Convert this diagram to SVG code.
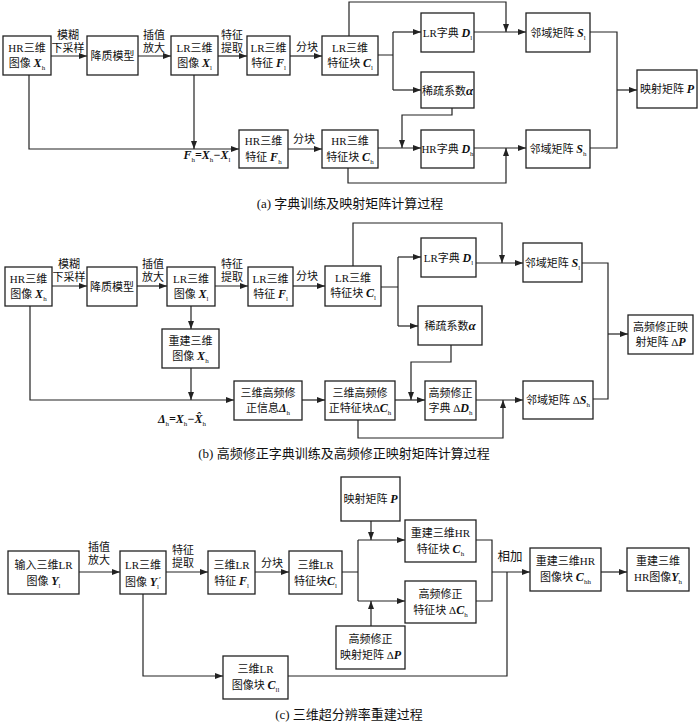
<svg xmlns="http://www.w3.org/2000/svg" width="700" height="722" viewBox="0 0 700 722">
<defs>
<style>
.b{fill:#fff;stroke:#222;stroke-width:1.3}
.l{fill:none;stroke:#222;stroke-width:1.2}
.a{marker-end:url(#ah)}
text{font-family:"Liberation Serif","Noto Sans CJK SC",serif;font-size:11px;fill:#111;text-anchor:middle}
.v{font-weight:bold;font-style:italic;font-size:12px}
.s{font-size:7px;font-weight:normal;font-style:normal}
.g{font-size:13px;font-weight:bold;font-style:italic}
.cap{font-size:13px}
</style>
<marker id="ah" viewBox="0 0 8 6" refX="8" refY="3" markerWidth="8" markerHeight="6" markerUnits="userSpaceOnUse" orient="auto"><path d="M0,0 L8,3 L0,6 z" fill="#222"/></marker>
</defs>
<rect width="700" height="722" fill="#fff"/>

<!-- ===== (a) ===== -->
<g id="connectors-a">
<path class="l a" d="M51,56 H87"/>
<path class="l a" d="M138,56 H171"/>
<path class="l a" d="M218,56 H247"/>
<path class="l a" d="M290,56 H322"/>
<path class="l a" d="M349,36 V2 H506 V32"/>
<path class="l a" d="M474,32 H526"/>
<path class="l" d="M378,55 H393 M393,32 V90"/>
<path class="l a" d="M393,32 H421"/>
<path class="l a" d="M393,90 H421"/>
<path class="l a" d="M452,108 V115 H402 V148"/>
<path class="l a" d="M378,148 H421"/>
<path class="l a" d="M474,148 H526"/>
<path class="l a" d="M348,168 V183 H506 V148"/>
<path class="l" d="M590,32 H617 V148 H590"/>
<path class="l a" d="M617,90 H637"/>
<path class="l a" d="M29,75 V149 H239"/>
<path class="l a" d="M194,75 V149"/>
<path class="l a" d="M288,149 H322"/>
<text x="68" y="39">模糊</text><text x="68" y="52">下采样</text>
<text x="154" y="39">插值</text><text x="154" y="52">放大</text>
<text x="232" y="39">特征</text><text x="232" y="52">提取</text>
<text x="307" y="51">分块</text>
<text x="304" y="143">分块</text>
<text x="207" y="159"><tspan class="v">F</tspan><tspan class="s" dy="3">h</tspan><tspan class="v" dy="-3">=X</tspan><tspan class="s" dy="3">h</tspan><tspan class="v" dy="-3">−X</tspan><tspan class="s" dy="3">l</tspan></text>
</g>
<g id="a_xh"><rect class="b" x="3" y="36" width="48" height="39"/><text x="27" y="52">HR三维</text><text x="27" y="67">图像 <tspan class="v">X</tspan><tspan class="s" dy="3">h</tspan></text></g>
<g id="a_deg"><rect class="b" x="87" y="36" width="51" height="39"/><text x="112.5" y="60">降质模型</text></g>
<g id="a_xl"><rect class="b" x="171" y="36" width="47" height="39"/><text x="194.5" y="52">LR三维</text><text x="194.5" y="67">图像 <tspan class="v">X</tspan><tspan class="s" dy="3">l</tspan></text></g>
<g id="a_fl"><rect class="b" x="247" y="36" width="43" height="39"/><text x="268.5" y="52">LR三维</text><text x="268.5" y="67">特征 <tspan class="v">F</tspan><tspan class="s" dy="3">l</tspan></text></g>
<g id="a_cl"><rect class="b" x="322" y="36" width="56" height="39"/><text x="350" y="52">LR三维</text><text x="350" y="67">特征块 <tspan class="v">C</tspan><tspan class="s" dy="3">l</tspan></text></g>
<g id="a_dl"><rect class="b" x="421" y="13" width="53" height="39"/><text x="447.5" y="37">LR字典 <tspan class="v">D</tspan><tspan class="s" dy="3">l</tspan></text></g>
<g id="a_sl"><rect class="b" x="526" y="13" width="64" height="39"/><text x="558" y="37">邻域矩阵 <tspan class="v">S</tspan><tspan class="s" dy="3">l</tspan></text></g>
<g id="a_alpha"><rect class="b" x="421" y="72" width="53" height="36"/><text x="447.5" y="95">稀疏系数<tspan class="g">α</tspan></text></g>
<g id="a_dh"><rect class="b" x="421" y="130" width="53" height="38"/><text x="447.5" y="153">HR字典 <tspan class="v">D</tspan><tspan class="s" dy="3">h</tspan></text></g>
<g id="a_sh"><rect class="b" x="526" y="130" width="64" height="38"/><text x="558" y="153">邻域矩阵 <tspan class="v">S</tspan><tspan class="s" dy="3">h</tspan></text></g>
<g id="a_p"><rect class="b" x="637" y="70" width="60" height="38"/><text x="667" y="93">映射矩阵 <tspan class="v">P</tspan></text></g>
<g id="a_fh"><rect class="b" x="239" y="130" width="49" height="38"/><text x="263.5" y="145">HR三维</text><text x="263.5" y="161">特征 <tspan class="v">F</tspan><tspan class="s" dy="3">h</tspan></text></g>
<g id="a_ch"><rect class="b" x="322" y="130" width="56" height="38"/><text x="350" y="145">HR三维</text><text x="350" y="161">特征块 <tspan class="v">C</tspan><tspan class="s" dy="3">h</tspan></text></g>
<text class="cap" x="350" y="208">(a) 字典训练及映射矩阵计算过程</text>

<!-- ===== (b) ===== -->
<g id="connectors-b">
<path class="l a" d="M52,286 H87"/>
<path class="l a" d="M137,286 H167"/>
<path class="l a" d="M215,286 H248"/>
<path class="l a" d="M293,286 H325"/>
<path class="l a" d="M353,266 V223 H502 V263"/>
<path class="l a" d="M476,263 H523"/>
<path class="l" d="M381,287 H398 M398,257 V326"/>
<path class="l a" d="M398,257 H421"/>
<path class="l a" d="M398,326 H418"/>
<path class="l a" d="M451,345 V362 H411 V400"/>
<path class="l a" d="M302,400 H325"/>
<path class="l a" d="M395,400 H425"/>
<path class="l a" d="M476,400 H523"/>
<path class="l a" d="M358,420 V438 H503 V400"/>
<path class="l" d="M582,263 H608 V399 H593"/>
<path class="l a" d="M608,334 H628"/>
<path class="l a" d="M30,306 V400 H234"/>
<path class="l a" d="M191,306 V329"/>
<path class="l a" d="M191,368 V400"/>
<text x="69" y="268">模糊</text><text x="69" y="281">下采样</text>
<text x="153" y="268">插值</text><text x="153" y="281">放大</text>
<text x="232" y="268">特征</text><text x="232" y="281">提取</text>
<text x="307" y="280">分块</text>
<text x="182" y="423"><tspan class="v">Δ</tspan><tspan class="s" dy="3">h</tspan><tspan class="v" dy="-3">=X</tspan><tspan class="s" dy="3">h</tspan><tspan class="v" dy="-3">−X̂</tspan><tspan class="s" dy="3">h</tspan></text>
</g>
<g id="b_xh"><rect class="b" x="5" y="267" width="47" height="39"/><text x="28.5" y="283">HR三维</text><text x="28.5" y="298">图像 <tspan class="v">X</tspan><tspan class="s" dy="3">h</tspan></text></g>
<g id="b_deg"><rect class="b" x="87" y="267" width="50" height="39"/><text x="112" y="291">降质模型</text></g>
<g id="b_xl"><rect class="b" x="167" y="267" width="48" height="39"/><text x="191" y="283">LR三维</text><text x="191" y="298">图像 <tspan class="v">X</tspan><tspan class="s" dy="3">l</tspan></text></g>
<g id="b_fl"><rect class="b" x="248" y="267" width="45" height="39"/><text x="270.5" y="283">LR三维</text><text x="270.5" y="298">特征 <tspan class="v">F</tspan><tspan class="s" dy="3">l</tspan></text></g>
<g id="b_cl"><rect class="b" x="325" y="266" width="56" height="40"/><text x="353" y="282">LR三维</text><text x="353" y="297">特征块 <tspan class="v">C</tspan><tspan class="s" dy="3">l</tspan></text></g>
<g id="b_dl"><rect class="b" x="421" y="238" width="55" height="39"/><text x="448.5" y="262">LR字典 <tspan class="v">D</tspan><tspan class="s" dy="3">l</tspan></text></g>
<g id="b_sl"><rect class="b" x="523" y="243" width="59" height="39"/><text x="552.5" y="267">邻域矩阵 <tspan class="v">S</tspan><tspan class="s" dy="3">l</tspan></text></g>
<g id="b_alpha"><rect class="b" x="418" y="306" width="64" height="39"/><text x="450" y="330">稀疏系数<tspan class="g">α</tspan></text></g>
<g id="b_rec"><rect class="b" x="162" y="329" width="57" height="39"/><text x="190.5" y="345">重建三维</text><text x="190.5" y="360">图像 <tspan class="v">X</tspan><tspan class="s" dy="3">h</tspan></text></g>
<g id="b_dhinfo"><rect class="b" x="234" y="381" width="68" height="39"/><text x="268" y="397">三维高频修</text><text x="268" y="412">正信息<tspan class="v">Δ</tspan><tspan class="s" dy="3">h</tspan></text></g>
<g id="b_dch"><rect class="b" x="325" y="381" width="70" height="39"/><text x="360" y="397">三维高频修</text><text x="360" y="412">正特征块Δ<tspan class="v">C</tspan><tspan class="s" dy="3">h</tspan></text></g>
<g id="b_ddh"><rect class="b" x="425" y="381" width="51" height="39"/><text x="450.5" y="397">高频修正</text><text x="450.5" y="412">字典 Δ<tspan class="v">D</tspan><tspan class="s" dy="3">h</tspan></text></g>
<g id="b_dsh"><rect class="b" x="523" y="381" width="70" height="38"/><text x="558" y="404">邻域矩阵 Δ<tspan class="v">S</tspan><tspan class="s" dy="3">h</tspan></text></g>
<g id="b_dp"><rect class="b" x="628" y="315" width="65" height="39"/><text x="660.5" y="331">高频修正映</text><text x="660.5" y="346">射矩阵 Δ<tspan class="v">P</tspan></text></g>
<text class="cap" x="344" y="458">(b) 高频修正字典训练及高频修正映射矩阵计算过程</text>

<!-- ===== (c) ===== -->
<g id="connectors-c">
<path class="l a" d="M79,572 H120"/>
<path class="l a" d="M166,572 H208"/>
<path class="l a" d="M255,572 H289"/>
<path class="l" d="M342,572 H358 M358,540 V601"/>
<path class="l a" d="M358,540 H405"/>
<path class="l a" d="M358,601 H405"/>
<path class="l a" d="M371,521 V540"/>
<path class="l a" d="M371,626 V601"/>
<path class="l" d="M476,540 H492 V601 H476"/>
<path class="l a" d="M492,572 H530"/>
<path class="l a" d="M143,594 V676 H223"/>
<path class="l" d="M288,676 H507 V572"/>
<path class="l a" d="M601,572 H627"/>
<text x="99" y="551">插值</text><text x="99" y="564">放大</text>
<text x="183" y="554">特征</text><text x="183" y="567">提取</text>
<text x="272" y="567">分块</text>
<text x="510" y="561" style="font-size:12.5px">相加</text>
</g>
<g id="c_yl"><rect class="b" x="8" y="551" width="71" height="43"/><text x="43.5" y="569">输入三维LR</text><text x="43.5" y="585">图像 <tspan class="v">Y</tspan><tspan class="s" dy="3">l</tspan></text></g>
<g id="c_ylp"><rect class="b" x="120" y="551" width="46" height="43"/><text x="143" y="569">LR三维</text><text x="143" y="586">图像 <tspan class="v">Y</tspan><tspan class="s" dy="3">l</tspan><tspan class="s" dy="-6" style="font-size:9px">′</tspan></text></g>
<g id="c_fl"><rect class="b" x="208" y="551" width="47" height="43"/><text x="231.5" y="569">三维LR</text><text x="231.5" y="585">特征 <tspan class="v">F</tspan><tspan class="s" dy="3">l</tspan></text></g>
<g id="c_cl"><rect class="b" x="289" y="551" width="53" height="43"/><text x="315.5" y="569">三维LR</text><text x="315.5" y="585">特征块<tspan class="v">C</tspan><tspan class="s" dy="3">l</tspan></text></g>
<g id="c_p"><rect class="b" x="341" y="477" width="59" height="44"/><text x="370.5" y="503">映射矩阵 <tspan class="v">P</tspan></text></g>
<g id="c_ch"><rect class="b" x="405" y="520" width="71" height="42"/><text x="440.5" y="537">重建三维HR</text><text x="440.5" y="553">特征块 <tspan class="v">C</tspan><tspan class="s" dy="3">h</tspan></text></g>
<g id="c_dch"><rect class="b" x="405" y="581" width="71" height="42"/><text x="440.5" y="598">高频修正</text><text x="440.5" y="614">特征块 Δ<tspan class="v">C</tspan><tspan class="s" dy="3">h</tspan></text></g>
<g id="c_dp"><rect class="b" x="336" y="626" width="69" height="43"/><text x="370.5" y="643">高频修正</text><text x="370.5" y="659">映射矩阵 Δ<tspan class="v">P</tspan></text></g>
<g id="c_cll"><rect class="b" x="223" y="656" width="65" height="43"/><text x="255.5" y="673">三维LR</text><text x="255.5" y="689">图像块 <tspan class="v">C</tspan><tspan class="s" dy="3">ll</tspan></text></g>
<g id="c_chh"><rect class="b" x="530" y="548" width="71" height="43"/><text x="565.5" y="565">重建三维HR</text><text x="565.5" y="581">图像块 <tspan class="v">C</tspan><tspan class="s" dy="3">hh</tspan></text></g>
<g id="c_yh"><rect class="b" x="627" y="548" width="62" height="43"/><text x="658" y="565">重建三维</text><text x="658" y="581">HR图像<tspan class="v">Y</tspan><tspan class="s" dy="3">h</tspan></text></g>
<text class="cap" x="349" y="719">(c) 三维超分辨率重建过程</text>
</svg>
